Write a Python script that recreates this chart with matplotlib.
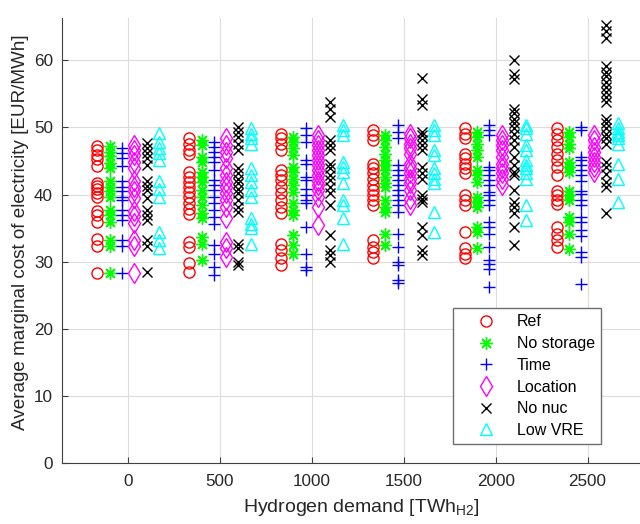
import numpy as np
import matplotlib
matplotlib.use('Agg')
import matplotlib.pyplot as plt

plt.rcParams['font.family'] = ['Liberation Sans', 'DejaVu Sans']
plt.rcParams['mathtext.fontset'] = 'custom'
plt.rcParams['mathtext.rm'] = 'Liberation Sans'

demand = [0, 500, 1000, 1500, 2000, 2500]

# marginal cost per run, one list per demand level
ref = [
    [47.2, 46.6, 45.9, 45.3, 44.2, 41.8, 41.3, 40.8, 40.2, 39.7, 37.6, 37.0, 36.0, 33.4, 32.4, 28.3],
    [48.4, 47.6, 46.7, 46.1, 43.4, 42.7, 41.9, 41.2, 40.4, 39.7, 38.7, 37.9, 37.1, 33.0, 32.2, 29.8, 28.5],
    [49.1, 48.4, 47.6, 46.7, 43.6, 42.9, 42.2, 41.2, 40.2, 39.2, 38.2, 37.2, 32.7, 31.7, 30.5, 29.5],
    [49.6, 48.9, 48.1, 44.6, 43.9, 43.2, 42.4, 41.4, 40.7, 39.9, 39.2, 38.4, 33.2, 32.2, 31.5, 30.5],
    [49.9, 49.1, 48.4, 46.1, 45.4, 44.6, 43.9, 43.2, 39.9, 39.2, 38.4, 34.5, 32.0, 31.2, 30.5],
    [49.9, 49.1, 48.1, 47.1, 46.1, 45.1, 44.1, 42.9, 40.6, 39.9, 39.2, 38.6, 35.2, 34.2, 33.2, 32.2],
]
no_storage = [
    [47.2, 46.4, 45.7, 44.7, 43.9, 42.0, 41.1, 40.5, 39.7, 37.7, 37.0, 36.0, 33.3, 32.3, 28.3],
    [48.1, 47.4, 45.6, 44.9, 43.4, 42.7, 41.9, 40.7, 39.7, 38.4, 37.2, 36.5, 33.7, 32.7, 30.2],
    [48.6, 47.9, 46.9, 45.9, 44.1, 43.4, 42.4, 41.4, 40.4, 38.7, 37.7, 36.9, 34.0, 32.5, 31.2],
    [48.9, 48.1, 47.1, 46.1, 45.1, 44.4, 43.6, 42.7, 41.7, 41.2, 39.2, 38.2, 37.4, 34.2, 32.5],
    [49.4, 48.6, 47.6, 46.6, 45.6, 43.6, 42.9, 41.9, 39.7, 38.9, 38.2, 35.2, 34.5, 32.0],
    [49.4, 48.6, 47.6, 46.9, 44.9, 44.1, 43.4, 40.6, 39.9, 39.2, 36.7, 35.9, 34.2, 31.9],
]
time_ = [
    [46.9, 46.2, 45.4, 44.3, 42.0, 41.2, 40.5, 39.7, 39.2, 37.7, 37.0, 36.2, 33.3, 32.3, 28.3],
    [47.9, 47.1, 46.4, 45.6, 44.9, 43.6, 42.2, 41.4, 40.7, 39.7, 38.7, 37.7, 36.7, 35.7, 32.5, 31.2, 29.3, 28.0],
    [49.9, 48.9, 47.9, 45.1, 44.6, 42.7, 42.2, 40.9, 39.9, 39.2, 38.7, 35.2, 31.2, 29.3, 28.8],
    [50.3, 49.4, 48.4, 44.4, 43.6, 42.9, 42.2, 41.4, 40.7, 39.9, 39.2, 38.4, 37.4, 34.2, 32.2, 30.0, 29.5, 27.3, 26.8],
    [50.3, 49.6, 48.9, 44.1, 43.6, 42.9, 42.2, 41.4, 40.4, 39.9, 39.2, 38.4, 36.0, 35.2, 34.2, 32.2, 30.2, 29.7, 29.0, 26.3],
    [50.1, 49.6, 45.6, 45.1, 44.4, 43.6, 42.9, 42.1, 40.6, 40.1, 39.2, 38.4, 36.7, 35.9, 34.7, 33.9, 31.4, 30.7, 26.7],
]
location = [
    [47.4, 46.7, 45.9, 44.9, 43.9, 42.0, 41.2, 40.5, 39.5, 37.5, 36.8, 35.8, 33.3, 32.3, 28.3],
    [48.4, 47.4, 46.4, 45.4, 43.9, 42.9, 41.9, 41.2, 40.2, 39.2, 38.2, 36.5, 33.0, 32.0, 30.7],
    [48.9, 48.1, 47.4, 46.6, 45.9, 45.1, 44.4, 43.6, 42.9, 42.1, 41.4, 40.7, 39.7, 38.2, 35.5],
    [49.1, 48.4, 47.6, 46.9, 46.1, 44.6, 43.9, 43.2, 42.4, 41.7, 40.7, 39.4, 38.4],
    [48.9, 48.1, 47.4, 46.6, 45.6, 44.6, 43.9, 43.2, 42.4, 41.4],
    [48.9, 48.1, 47.1, 46.4, 45.6, 44.9, 44.1, 43.4],
]
no_nuc = [
    [47.7, 46.9, 46.2, 45.4, 44.4, 42.0, 41.3, 40.7, 39.5, 37.7, 37.0, 36.2, 33.3, 32.3, 28.5],
    [50.1, 49.4, 48.6, 47.6, 46.6, 43.9, 43.2, 42.4, 41.7, 40.9, 40.2, 39.2, 38.2, 37.4, 32.7, 32.0, 30.0, 29.5],
    [53.8, 52.8, 51.6, 48.1, 47.4, 46.6, 44.6, 43.9, 42.9, 42.2, 41.2, 40.2, 38.4, 34.0, 31.7, 31.0, 30.0],
    [57.3, 54.3, 53.3, 49.4, 48.9, 48.1, 47.4, 46.6, 44.1, 43.2, 42.4, 39.9, 39.4, 38.9, 35.2, 34.0, 31.7, 31.0],
    [60.1, 58.0, 57.2, 52.8, 52.1, 51.3, 50.6, 49.9, 49.1, 48.1, 47.1, 45.6, 44.4, 43.4, 42.9, 40.7,
     38.9, 38.2, 37.2, 35.2, 32.5],
    [65.3, 64.3, 63.3, 59.1, 58.3, 57.6, 56.8, 56.1, 55.3, 54.6, 53.8, 51.3, 50.6, 49.9, 49.1, 48.4,
     47.6, 44.9, 44.1, 43.1, 41.9, 41.1, 37.2],
]
low_vre = [
    [49.2, 47.9, 46.9, 46.2, 45.2, 42.0, 40.8, 39.7, 34.5, 33.3, 32.0],
    [49.9, 49.1, 48.4, 47.6, 43.9, 42.9, 41.9, 40.7, 39.7, 36.5, 35.7, 35.0, 32.7],
    [50.3, 49.6, 48.9, 44.9, 44.1, 43.4, 41.7, 39.2, 38.4, 36.5, 32.7],
    [50.3, 49.6, 48.9, 46.6, 45.9, 43.9, 43.2, 42.4, 41.7, 37.4, 34.5],
    [50.3, 49.9, 49.1, 47.4, 46.6, 45.1, 44.4, 43.9, 43.2, 42.4, 38.4, 36.2],
    [50.6, 49.9, 49.4, 48.9, 48.4, 47.6, 44.6, 42.4, 38.9],
]

names = ['Ref', 'No storage', 'Time', 'Location', 'No nuc', 'Low VRE']
series = [ref, no_storage, time_, location, no_nuc, low_vre]

styles = [
    dict(marker='o', color='#ff0000', ms=8, mfc='none'),
    dict(marker=(8, 2, 0), color='#00ff00', ms=9),
    dict(marker='+', color='#0000ff', ms=9),
    dict(marker='d', color='#ff00ff', ms=10, mfc='none'),
    dict(marker='x', color='#000000', ms=6.5),
    dict(marker='^', color='#00ffff', ms=9, mfc='none'),
]
offsets = np.linspace(-167, 167, 6)

fig = plt.figure(figsize=(6.4, 5.24), dpi=100)
ax = fig.add_axes([62 / 640, 60.7 / 524, 599 / 640, 445.3 / 524])

handles = []
for k, (name, vals) in enumerate(zip(names, series)):
    for d, v in zip(demand, vals):
        h, = ax.plot(np.full(len(v), d + offsets[k]), v, ls='none', mew=1.0,
                     **styles[k])
    handles.append(h)

ax.set_xlim(-360, 2900)
ax.set_ylim(0, 66.3)
ax.set_xticks(demand)
ax.set_yticks(np.arange(0, 61, 10))
ax.grid(True, color='#dcdcdc', lw=0.8)
ax.set_axisbelow(True)
for s in ['top', 'right']:
    ax.spines[s].set_visible(False)
for s in ['left', 'bottom']:
    ax.spines[s].set_color('#404040')
    ax.spines[s].set_linewidth(0.8)
ax.tick_params(direction='in', length=4, colors='#404040', labelsize=12.3,
               labelcolor='#262626')
ax.tick_params(axis='x', pad=7.5)
ax.tick_params(axis='y', pad=6.5)

ax.set_xlabel('Hydrogen demand [TWh$_{\\mathregular{H2}}$]', fontsize=14,
              color='#262626', labelpad=6)
ax.set_ylabel('Average marginal cost of electricity [EUR/MWh]', fontsize=13.6,
              color='#262626', labelpad=5)
ax.yaxis.set_label_coords(-0.055, 0.52)

leg = ax.legend(handles, names, loc='upper left',
                bbox_to_anchor=(453 / 640, 1 - 308 / 524),
                bbox_transform=fig.transFigure, borderaxespad=0,
                fontsize=11.5, handlelength=3.3, handletextpad=0.3,
                labelspacing=0.42, fancybox=False, framealpha=1,
                edgecolor='#6e6e6e')
leg.get_frame().set_linewidth(1.0)

fig.savefig('out.png', dpi=100)
